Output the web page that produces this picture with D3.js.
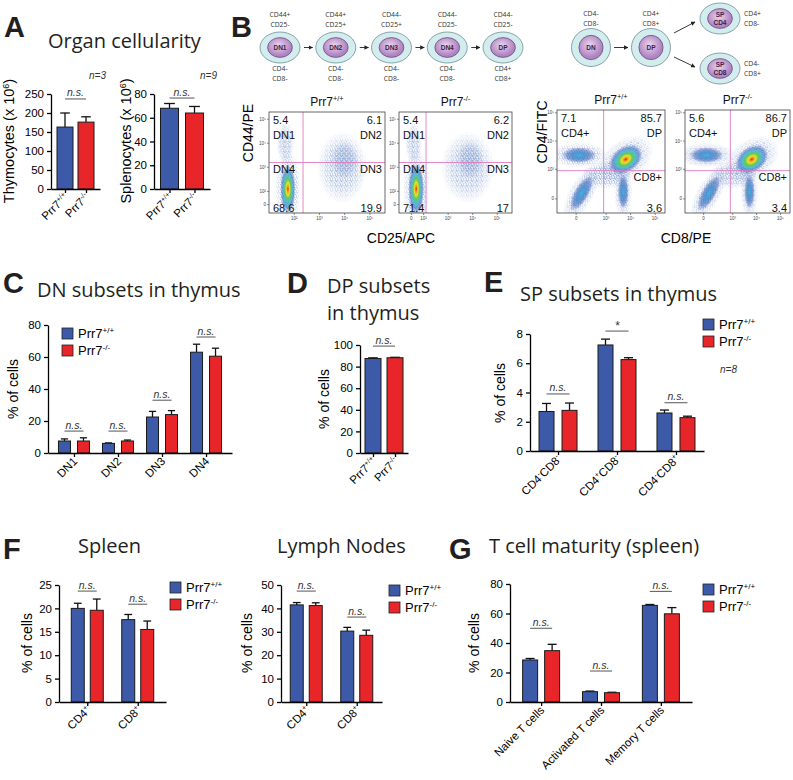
<!DOCTYPE html>
<html>
<head>
<meta charset="utf-8">
<script src="https://cdnjs.cloudflare.com/ajax/libs/d3/7.8.5/d3.min.js"></script>
<style>
body { margin: 0; background: #fff; }
svg { display: block; }
</style>
</head>
<body>
<script>
// ---------- data ----------
var genoLabels = ["Prr7{+/+}", "Prr7{-/-}"];

// A: organ cellularity
var thymoMean = [163, 176], thymoErr = [37, 14];
var splenoMean = [68, 64], splenoErr = [4, 5.5];

// B: flow cytometry quadrant frequencies
var dnFreqWT = [5.4, 6.1, 19.9, 68.6];   // DN1, DN2, DN3, DN4
var dnFreqKO = [5.4, 6.2, 17, 71.4];
var cdFreqWT = [7.1, 85.7, 3.6];         // CD4+, DP, CD8+
var cdFreqKO = [5.6, 86.7, 3.4];
var stages = ["DN1", "DN2", "DN3", "DN4", "DP"];
var stageTop = [["CD44+", "CD25-"], ["CD44+", "CD25+"], ["CD44-", "CD25+"], ["CD44-", "CD25-"], ["CD44-", "CD25-"]];
var stageBottom = [["CD4-", "CD8-"], ["CD4-", "CD8-"], ["CD4-", "CD8-"], ["CD4-", "CD8-"], ["CD4+", "CD8+"]];
// populations: [x (log), y (log), spread x, spread y, angle, kind]
var dnPopsWT = [[1.75, 2.1, 0.3, 1.0, 0, "d"], [1.65, 4.0, 0.35, 0.9, 0, "s"], [3.9, 3.0, 1.0, 1.5, 0, "s"], [4.0, 3.3, 0.55, 0.8, 0, "s"]];
var dnPopsKO = [[1.7, 2.1, 0.32, 1.05, 0, "d"], [1.6, 4.0, 0.35, 0.9, 0, "s"], [3.8, 3.0, 1.1, 1.5, 0, "s"], [3.9, 3.3, 0.55, 0.8, 0, "s"]];
var cdPopsWT = [[3.8, 3.35, 0.75, 0.45, -35, "d"], [1.9, 3.5, 0.7, 0.28, 0, "m"], [2.0, 2.15, 0.3, 0.7, 30, "m"], [3.7, 2.2, 0.22, 0.6, 0, "m"], [3.0, 2.8, 1.0, 0.5, 0, "s"]];
var cdPopsKO = [[3.8, 3.35, 0.75, 0.45, -35, "d"], [1.9, 3.5, 0.7, 0.28, 0, "m"], [2.0, 2.15, 0.3, 0.7, 30, "m"], [3.7, 2.2, 0.22, 0.6, 0, "m"], [3.0, 2.8, 1.0, 0.5, 0, "s"]];

// C: DN subsets
var dnCats = ["DN1", "DN2", "DN3", "DN4"];
var dnWT = [7.5, 6, 22.5, 63], dnWTErr = [1.3, 0.3, 3.5, 5];
var dnKO = [7.5, 7.5, 24, 60.5], dnKOErr = [2, 0.6, 2.5, 5];
var dnSig = [13.7, 13.7, 33, 72.5];

// D: DP subsets
var dpMean = [87.5, 88.2], dpErr = [0.6, 0.4];

// E: SP subsets
var spCats = ["CD4{-}CD8{-}", "CD4{+}CD8{-}", "CD4{-}CD8{+}"];
var spWT = [2.7, 7.25, 2.6], spWTErr = [0.55, 0.4, 0.2];
var spKO = [2.78, 6.25, 2.28], spKOErr = [0.5, 0.13, 0.1];
var spSig = [3.9, 8.2, 3.3], spSigText = ["n.s.", "*", "n.s."];

// F: spleen / lymph nodes
var fCats = ["CD4{+}", "CD8{+}"];
var spleenWT = [20, 17.6], spleenWTErr = [1.1, 1.1];
var spleenKO = [19.6, 15.5], spleenKOErr = [2.4, 1.8];
var spleenSig = [23.7, 20.9];
var lnWT = [41.5, 30.3], lnWTErr = [1, 1.6];
var lnKO = [41.2, 28.5], lnKOErr = [1.2, 2.2];
var lnSig = [47.4, 36.3];

// G: T cell maturity
var tCats = ["Naive T cells", "Activated T cells", "Memory T cells"];
var tWT = [28.5, 7, 65.5], tWTErr = [1, 0.4, 0.6];
var tKO = [34.8, 6.3, 59.8], tKOErr = [4.3, 0.3, 4.2];
var tSig = [50, 21, 75];

// ---------- setup ----------
var blue = "#3d5aa9", red = "#e8262a";
var helv = "'Liberation Sans', Arial, sans-serif";
var myriad = "'Open Sans', sans-serif";

var svg = d3.select("body").append("svg").attr("width", 793).attr("height", 780);
var defs = svg.append("defs");

var dens = defs.append("radialGradient").attr("id", "dens");
[[0, "#e02418", 1], [0.12, "#f0a020", 1], [0.25, "#e8e030", 1], [0.4, "#60c848", 0.95], [0.58, "#38b8d0", 0.85], [0.78, "#3a6ac0", 0.6], [1, "#3a5cb0", 0]]
  .forEach(function(s) { dens.append("stop").attr("offset", s[0]).attr("stop-color", s[1]).attr("stop-opacity", s[2]); });
var densMed = defs.append("radialGradient").attr("id", "densMed");
[[0, "#3ab0d8", 0.95], [0.35, "#3a88cc", 0.85], [0.7, "#3a62b8", 0.55], [1, "#3a5cb0", 0]]
  .forEach(function(s) { densMed.append("stop").attr("offset", s[0]).attr("stop-color", s[1]).attr("stop-opacity", s[2]); });
var fadeG = defs.append("radialGradient").attr("id", "fadeG");
[[0, "#fff"], [0.55, "#ccc"], [1, "#000"]]
  .forEach(function(s) { fadeG.append("stop").attr("offset", s[0]).attr("stop-color", s[1]); });
defs.append("mask").attr("id", "fade").attr("maskContentUnits", "objectBoundingBox")
  .append("rect").attr("width", 1).attr("height", 1).attr("fill", "url(#fadeG)");
var speck = defs.append("pattern").attr("id", "speck").attr("patternUnits", "userSpaceOnUse")
  .attr("width", 5).attr("height", 5);
[[0.8, 1, "#3b5cab"], [3.4, 1.9, "#4a7cc8"], [1.9, 3.8, "#3b5cab"], [4.4, 4.3, "#3b5cab"], [2.6, 0.3, "#3f6cbc"], [0.4, 2.9, "#5a90d0"], [3.8, 3.3, "#3b5cab"]]
  .forEach(function(p) {
    speck.append("circle").attr("cx", p[0]).attr("cy", p[1]).attr("r", 0.55).attr("fill", p[2]);
  });
var cellIn = defs.append("radialGradient").attr("id", "cellIn").attr("cx", "45%").attr("cy", "40%");
cellIn.append("stop").attr("offset", 0).attr("stop-color", "#ead6ee");
cellIn.append("stop").attr("offset", 1).attr("stop-color", "#b084c2");
defs.append("marker").attr("id", "arr").attr("viewBox", "0 0 10 10").attr("refX", 9).attr("refY", 5)
  .attr("markerWidth", 5).attr("markerHeight", 5).attr("orient", "auto")
  .append("path").attr("d", "M0,0L10,5L0,10z").attr("fill", "#222");

function rich(t, str, fs) {
  var parts = str.split(/(\{[^}]*\})/).filter(function(p) { return p.length; });
  var up = false;
  parts.forEach(function(p) {
    var sp = t.append("tspan");
    if (p.charAt(0) == "{") {
      sp.attr("font-size", fs * 0.62).attr("dy", -fs * 0.38).text(p.slice(1, -1));
      up = true;
    } else {
      sp.attr("font-size", fs).attr("dy", up ? fs * 0.38 : 0).text(p);
      up = false;
    }
  });
  return t;
}

function letter(l, x, y) {
  svg.append("text").attr("x", x).attr("y", y).text(l)
    .attr("font-family", helv).attr("font-weight", "bold").attr("font-size", 29).attr("fill", "#231f20");
}
function title(s, x, y) {
  svg.append("text").attr("x", x).attr("y", y).text(s)
    .attr("font-family", myriad).attr("font-size", 20).attr("fill", "#231f20");
}
function note(s, x, y, anchor) {
  svg.append("text").attr("x", x).attr("y", y).text(s).attr("text-anchor", anchor || "start")
    .attr("font-family", helv).attr("font-style", "italic").attr("font-size", 10).attr("fill", "#333");
}
function yLabel(s, x, y, fs) {
  var t = svg.append("text").attr("transform", "translate(" + x + "," + y + ") rotate(-90)")
    .attr("text-anchor", "middle").attr("font-family", helv).attr("fill", "#000");
  rich(t, s, fs || 14);
}
function legend(x, y) {
  [blue, red].forEach(function(c, i) {
    svg.append("rect").attr("x", x).attr("y", y + i * 17).attr("width", 11).attr("height", 11)
      .attr("fill", c).attr("stroke", "#222").attr("stroke-width", 0.8);
    var t = svg.append("text").attr("x", x + 16).attr("y", y + i * 17 + 10)
      .attr("font-family", helv).attr("fill", "#000");
    rich(t, genoLabels[i], 13);
  });
}

// ---------- bar charts ----------
function barChart(o) {
  var g = svg.append("g");
  var y = d3.scaleLinear().domain([0, o.max]).range([o.base, o.top]);
  var x = d3.scalePoint().domain(o.cats).range([o.x0, o.x1]).padding(o.pad);
  var n = o.series.length;
  var total = n * o.bw + (n - 1) * o.gap;
  var barX = function(c, si) { return x(c) - total / 2 + si * (o.bw + o.gap); };

  o.series.forEach(function(s, si) {
    var d = o.cats.map(function(c, i) {
      return { cat: c, v: s.vals[i], e: s.errs[i], col: s.colors ? s.colors[i] : s.color };
    });
    var cx = function(p) { return barX(p.cat, si) + o.bw / 2; };
    g.selectAll(null).data(d).enter().append("line")
      .attr("x1", cx).attr("x2", cx)
      .attr("y1", function(p) { return y(p.v); }).attr("y2", function(p) { return y(p.v + p.e); })
      .attr("stroke", "#111").attr("stroke-width", 1.3);
    g.selectAll(null).data(d).enter().append("line")
      .attr("x1", function(p) { return cx(p) - o.bw * 0.3; }).attr("x2", function(p) { return cx(p) + o.bw * 0.3; })
      .attr("y1", function(p) { return y(p.v + p.e); }).attr("y2", function(p) { return y(p.v + p.e); })
      .attr("stroke", "#111").attr("stroke-width", 1.3);
    g.selectAll(null).data(d).enter().append("rect")
      .attr("x", function(p) { return barX(p.cat, si); })
      .attr("y", function(p) { return y(p.v); })
      .attr("width", o.bw)
      .attr("height", function(p) { return o.base - y(p.v); })
      .attr("fill", function(p) { return p.col; })
      .attr("stroke", "#1a1a1a").attr("stroke-width", 1);
  });

  var ya = g.append("g").attr("transform", "translate(" + o.x0 + ",0)")
    .call(d3.axisLeft(y).tickValues(o.ticks).tickSize(4).tickSizeOuter(0).tickPadding(3));
  var xa = g.append("g").attr("transform", "translate(0," + o.base + ")")
    .call(d3.axisBottom(x).tickSize(4).tickSizeOuter(0).tickFormat(""));
  [ya, xa].forEach(function(a) {
    a.selectAll("path, line").attr("stroke", "#000").attr("stroke-width", 1.3);
    a.selectAll("text").attr("font-family", helv).attr("font-size", 11.5).attr("fill", "#000");
  });

  var labels = o.xlabels || o.cats;
  o.cats.forEach(function(c, i) {
    var t = g.append("text")
      .attr("transform", "translate(" + (x(c) + 4) + "," + (o.base + 9) + ") rotate(-45)")
      .attr("text-anchor", "end").attr("font-family", helv).attr("fill", "#000");
    rich(t, labels[i], o.lfs || 11.5);
  });

  // significance marks
  var spans = n == 1 ? [[x(o.cats[0]), x(o.cats[o.cats.length - 1])]]
    : o.cats.map(function(c) { return [barX(c, 0) + o.bw / 2, barX(c, 1) + o.bw / 2]; });
  spans.forEach(function(sp, i) {
    if (o.sig[i] == null) return;
    var ly = y(o.sig[i]);
    var txt = o.sigText ? o.sigText[i] : "n.s.";
    g.append("line").attr("x1", sp[0]).attr("x2", sp[1]).attr("y1", ly).attr("y2", ly)
      .attr("stroke", "#555").attr("stroke-width", 1);
    g.append("text").attr("x", (sp[0] + sp[1]) / 2).attr("y", txt == "*" ? ly - 1 : ly - 2.5)
      .attr("text-anchor", "middle").text(txt)
      .attr("font-family", helv).attr("font-style", "italic").attr("font-size", txt == "*" ? 12 : 10.5).attr("fill", "#333");
  });
}

// ---------- flow plots ----------
var clipN = 0;
function flowPlot(o) {
  var g = svg.append("g");
  var x = d3.scaleLinear().domain(o.xd).range([o.x0, o.x1]);
  var y = d3.scaleLinear().domain(o.yd).range([o.y1, o.y0]);
  var kx = x(1) - x(0), ky = y(0) - y(1);
  var id = "clip" + (clipN++);
  defs.append("clipPath").attr("id", id).append("rect")
    .attr("x", o.x0).attr("y", o.y0).attr("width", o.x1 - o.x0).attr("height", o.y1 - o.y0);
  var pg = g.append("g").attr("clip-path", "url(#" + id + ")");
  var tr = function(d) { return "translate(" + x(d[0]) + "," + y(d[1]) + ") rotate(" + d[4] + ")"; };
  // speckled halo
  pg.selectAll(null).data(o.pops).enter().append("ellipse")
    .attr("transform", tr)
    .attr("rx", function(d) { return d[2] * kx * (d[5] == "s" ? 1 : 1.7); })
    .attr("ry", function(d) { return d[3] * ky * (d[5] == "s" ? 1 : 1.6); })
    .attr("fill", "url(#speck)").attr("mask", "url(#fade)");
  // density core
  pg.selectAll(null).data(o.pops.filter(function(d) { return d[5] != "s"; })).enter().append("ellipse")
    .attr("transform", tr)
    .attr("rx", function(d) { return d[2] * kx; })
    .attr("ry", function(d) { return d[3] * ky; })
    .attr("fill", function(d) { return d[5] == "d" ? "url(#dens)" : "url(#densMed)"; });

  // gates
  g.append("line").attr("x1", x(o.gx)).attr("x2", x(o.gx)).attr("y1", o.y0).attr("y2", o.y1)
    .attr("stroke", "#e07ac0").attr("stroke-width", 0.9);
  g.append("line").attr("x1", o.x0).attr("x2", o.x1).attr("y1", y(o.gy)).attr("y2", y(o.gy))
    .attr("stroke", "#e07ac0").attr("stroke-width", 0.9);
  g.append("rect").attr("x", o.x0).attr("y", o.y0).attr("width", o.x1 - o.x0).attr("height", o.y1 - o.y0)
    .attr("fill", "none").attr("stroke", "#444").attr("stroke-width", 0.8);

  // tiny ticks
  var tl = function(v) { return v < 1.99 ? "0" : "10" + "⁰¹²³⁴⁵".charAt(Math.round(v)); };
  g.selectAll(null).data(o.yt).enter().append("line")
    .attr("x1", o.x0 - 2).attr("x2", o.x0).attr("y1", y).attr("y2", y).attr("stroke", "#444").attr("stroke-width", 0.6);
  g.selectAll(null).data(o.yt).enter().append("text")
    .attr("x", o.x0 - 3).attr("y", function(v) { return y(v) + 1.5; }).attr("text-anchor", "end")
    .attr("font-family", helv).attr("font-size", 4.5).attr("fill", "#444").text(tl);
  g.selectAll(null).data(o.xt).enter().append("line")
    .attr("x1", x).attr("x2", x).attr("y1", o.y1).attr("y2", o.y1 + 2).attr("stroke", "#444").attr("stroke-width", 0.6);
  g.selectAll(null).data(o.xt).enter().append("text")
    .attr("x", x).attr("y", o.y1 + 7).attr("text-anchor", "middle")
    .attr("font-family", helv).attr("font-size", 4.5).attr("fill", "#444").text(tl);

  // quadrant labels
  var gyPx = y(o.gy);
  var lab = function(s, px, py, anchor) {
    g.append("text").attr("x", px).attr("y", py).attr("text-anchor", anchor).text(s)
      .attr("font-family", helv).attr("font-size", 11).attr("fill", "#111");
  };
  o.labels.forEach(function(l) {
    var px = l[1] == "L" ? o.x0 + 4 : o.x1 - 3;
    var py = l[2] == "top1" ? o.y0 + 12 : l[2] == "top2" ? o.y0 + 27 : l[2] == "gate" ? gyPx + 10.5 : o.y1 - 1.5;
    lab(l[0], px, py, l[1] == "L" ? "start" : "end");
  });

  var t = g.append("text").attr("x", (o.x0 + o.x1) / 2).attr("y", o.y0 - 6).attr("text-anchor", "middle")
    .attr("font-family", helv).attr("fill", "#111");
  rich(t, o.title, 12);
}

// ---------- cell diagram ----------
function cell(cx, cy, rx, ry, lines) {
  svg.append("ellipse").attr("cx", cx).attr("cy", cy).attr("rx", rx).attr("ry", ry)
    .attr("fill", "#d3edef").attr("stroke", "#5d7f88").attr("stroke-width", 0.7);
  svg.append("ellipse").attr("cx", cx).attr("cy", cy).attr("rx", rx * 0.62).attr("ry", ry * 0.64)
    .attr("fill", "url(#cellIn)").attr("stroke", "#4b2f5e").attr("stroke-width", 0.6);
  lines.forEach(function(s, i) {
    svg.append("text").attr("x", cx).attr("y", cy + 2.3 + (i - (lines.length - 1) / 2) * 8)
      .attr("text-anchor", "middle").text(s)
      .attr("font-family", helv).attr("font-weight", "bold").attr("font-size", 6.5).attr("fill", "#3a2148");
  });
}
function small(s, x, y, anchor) {
  svg.append("text").attr("x", x).attr("y", y).attr("text-anchor", anchor || "middle").text(s)
    .attr("font-family", myriad).attr("font-size", 6.8).attr("fill", "#333");
}
function arrow(x1, y1, x2, y2) {
  svg.append("line").attr("x1", x1).attr("y1", y1).attr("x2", x2).attr("y2", y2)
    .attr("stroke", "#222").attr("stroke-width", 0.9).attr("marker-end", "url(#arr)");
}

// ================= Panel A =================
letter("A", 4, 37);
title("Organ cellularity", 48, 48);
barChart({ x0: 51, x1: 100, base: 189, top: 94, max: 250, ticks: [0, 50, 100, 150, 200, 250],
  cats: ["wt", "ko"], xlabels: genoLabels, pad: 0.667, bw: 16, gap: 0,
  series: [{ vals: thymoMean, errs: thymoErr, colors: [blue, red] }], sig: [237] });
barChart({ x0: 154, x1: 210, base: 189, top: 94, max: 80, ticks: [0, 20, 40, 60, 80],
  cats: ["wt", "ko"], xlabels: genoLabels, pad: 0.62, bw: 18, gap: 0,
  series: [{ vals: splenoMean, errs: splenoErr, colors: [blue, red] }], sig: [76.6] });
yLabel("Thymocytes (x 10{6})", 14, 141, 14.5);
yLabel("Splenocytes (x 10{6})", 131, 141, 14.5);
note("n=3", 106, 79, "end");
note("n=9", 217, 79, "end");

// ================= Panel B =================
letter("B", 231, 37);
var sx = d3.scalePoint().domain(stages).range([280, 503]);
stages.forEach(function(s, i) {
  var cx = sx(s);
  cell(cx, 47.5, 20, 15.5, [s]);
  small(stageTop[i][0], cx, 17);
  small(stageTop[i][1], cx, 27);
  small(stageBottom[i][0], cx, 71);
  small(stageBottom[i][1], cx, 81);
  if (i < stages.length - 1) arrow(cx + 24, 47.5, sx(stages[i + 1]) - 23, 47.5);
});
cell(591, 47.5, 19.5, 19, ["DN"]);
cell(651, 47.5, 19.5, 19, ["DP"]);
cell(720, 18.5, 20, 15.5, ["SP", "CD4"]);
cell(720, 68.5, 20, 15.5, ["SP", "CD8"]);
small("CD4-", 591, 16); small("CD8-", 591, 26);
small("CD4+", 651, 16); small("CD8+", 651, 26);
small("CD4+", 744, 16, "start"); small("CD8-", 744, 26, "start");
small("CD4-", 744, 66, "start"); small("CD8+", 744, 76, "start");
arrow(614, 47.5, 628, 47.5);
arrow(674, 33, 695, 22);
arrow(674, 57, 695, 67);

flowPlot({ x0: 269, x1: 385, y0: 112, y1: 213, xd: [1, 5.6], yd: [1.1, 5.3], gx: 2.35, gy: 3.2,
  xt: [2, 3, 4, 5], yt: [1.45, 2, 3, 4, 5], pops: dnPopsWT, title: "Prr7{+/+}",
  labels: [[dnFreqWT[0], "L", "top1"], ["DN1", "L", "top2"], [dnFreqWT[1], "R", "top1"], ["DN2", "R", "top2"],
    ["DN4", "L", "gate"], ["DN3", "R", "gate"], [dnFreqWT[3], "L", "bot"], [dnFreqWT[2], "R", "bot"]] });
flowPlot({ x0: 399, x1: 512, y0: 112, y1: 213, xd: [1, 5.6], yd: [1.1, 5.3], gx: 2.1, gy: 3.2,
  xt: [1.5, 2, 3, 4, 5], yt: [1.45, 2, 3, 4, 5], pops: dnPopsKO, title: "Prr7{-/-}",
  labels: [[dnFreqKO[0], "L", "top1"], ["DN1", "L", "top2"], [dnFreqKO[1], "R", "top1"], ["DN2", "R", "top2"],
    ["DN4", "L", "gate"], ["DN3", "R", "gate"], [dnFreqKO[3], "L", "bot"], [dnFreqKO[2], "R", "bot"]] });
flowPlot({ x0: 557, x1: 665, y0: 110, y1: 213, xd: [1, 5.4], yd: [1.45, 5.1], gx: 2.9, gy: 2.95,
  xt: [1.78, 3, 4, 5], yt: [1.95, 3, 4, 5], pops: cdPopsWT, title: "Prr7{+/+}",
  labels: [[cdFreqWT[0], "L", "top1"], ["CD4+", "L", "top2"], [cdFreqWT[1], "R", "top1"], ["DP", "R", "top2"],
    ["CD8+", "R", "gate"], [cdFreqWT[2], "R", "bot"]] });
flowPlot({ x0: 685, x1: 790, y0: 110, y1: 213, xd: [1, 5.4], yd: [1.45, 5.1], gx: 2.9, gy: 2.95,
  xt: [1.78, 3, 4, 5], yt: [1.95, 3, 4, 5], pops: cdPopsKO, title: "Prr7{-/-}",
  labels: [[cdFreqKO[0], "L", "top1"], ["CD4+", "L", "top2"], [cdFreqKO[1], "R", "top1"], ["DP", "R", "top2"],
    ["CD8+", "R", "gate"], [cdFreqKO[2], "R", "bot"]] });
yLabel("CD44/PE", 253, 133, 14);
yLabel("CD4/FITC", 547, 132, 14);
svg.append("text").attr("x", 401).attr("y", 243).attr("text-anchor", "middle").text("CD25/APC")
  .attr("font-family", helv).attr("font-size", 14).attr("fill", "#000");
svg.append("text").attr("x", 686).attr("y", 243).attr("text-anchor", "middle").text("CD8/PE")
  .attr("font-family", helv).attr("font-size", 14).attr("fill", "#000");

// ================= Panel C =================
letter("C", 3, 293);
title("DN subsets in thymus", 37, 297);
barChart({ x0: 48, x1: 232, base: 453, top: 325, max: 80, ticks: [0, 20, 40, 60, 80],
  cats: dnCats, pad: 0.59, bw: 12, gap: 7,
  series: [{ vals: dnWT, errs: dnWTErr, color: blue }, { vals: dnKO, errs: dnKOErr, color: red }], sig: dnSig });
legend(62, 328);
yLabel("% of cells", 18, 389);

// ================= Panel D =================
letter("D", 287, 293);
title("DP subsets", 327, 293);
title("in thymus", 327, 320);
barChart({ x0: 360, x1: 408, base: 453, top: 345, max: 100, ticks: [0, 20, 40, 60, 80, 100],
  cats: ["wt", "ko"], xlabels: genoLabels, pad: 0.59, bw: 16, gap: 0,
  series: [{ vals: dpMean, errs: dpErr, colors: [blue, red] }], sig: [99] });
yLabel("% of cells", 329, 399);

// ================= Panel E =================
letter("E", 484, 292);
title("SP subsets in thymus", 520, 301);
barChart({ x0: 530, x1: 704, base: 451, top: 334, max: 8, ticks: [0, 2, 4, 6, 8],
  cats: spCats, pad: 0.475, bw: 15, gap: 8,
  series: [{ vals: spWT, errs: spWTErr, color: blue }, { vals: spKO, errs: spKOErr, color: red }],
  sig: spSig, sigText: spSigText });
legend(703, 319);
note("n=8", 720, 373);
yLabel("% of cells", 505, 393);

// ================= Panel F =================
letter("F", 3, 559);
title("Spleen", 78, 553);
title("Lymph Nodes", 277, 553);
barChart({ x0: 59, x1: 166, base: 702, top: 585, max: 25, ticks: [0, 5, 10, 15, 20, 25],
  cats: fCats, pad: 0.56, bw: 13, gap: 6,
  series: [{ vals: spleenWT, errs: spleenWTErr, color: blue }, { vals: spleenKO, errs: spleenKOErr, color: red }],
  sig: spleenSig });
legend(170, 582);
yLabel("% of cells", 32, 643);
barChart({ x0: 281, x1: 382, base: 702, top: 585, max: 50, ticks: [0, 10, 20, 30, 40, 50],
  cats: fCats, pad: 0.5, bw: 13, gap: 6,
  series: [{ vals: lnWT, errs: lnWTErr, color: blue }, { vals: lnKO, errs: lnKOErr, color: red }],
  sig: lnSig });
legend(389, 585);
yLabel("% of cells", 252, 643);

// ================= Panel G =================
letter("G", 449, 559);
title("T cell maturity (spleen)", 489, 553);
barChart({ x0: 510, x1: 692, base: 702, top: 584, max: 80, ticks: [0, 20, 40, 60, 80],
  cats: tCats, pad: 0.52, bw: 15, gap: 7,
  series: [{ vals: tWT, errs: tWTErr, color: blue }, { vals: tKO, errs: tKOErr, color: red }],
  sig: tSig });
legend(703, 584);
yLabel("% of cells", 479, 643);
</script>
</body>
</html>
